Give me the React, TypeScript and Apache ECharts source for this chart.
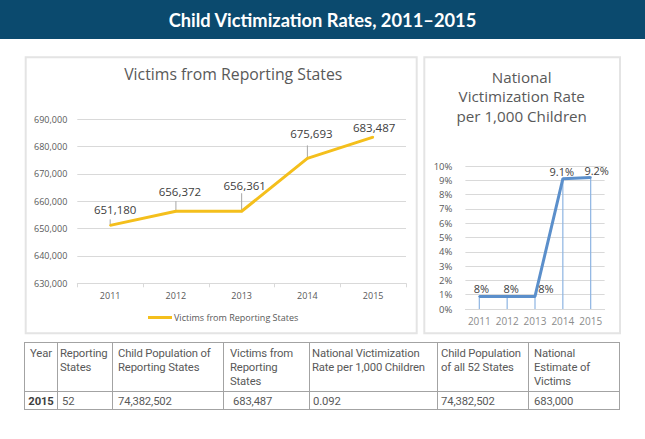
import React, { useEffect, useRef } from 'react';
import * as echarts from 'echarts';

const years = ['2011', '2012', '2013', '2014', '2015'];
const victims = [651180, 656372, 656361, 675693, 683487];
const victimMin = 630000;
const victimMax = 690000;
const victimStep = 10000;

const rateValues = [0.88, 0.88, 0.88, 9.1, 9.2];
const rateLabels = ['8%', '8%', '8%', '9.1%', '9.2%'];
const rateMin = 0;
const rateMax = 10;
const rateStep = 1;

const leftTitle = 'Victims from Reporting States';
const rightTitleLines = ['National', 'Victimization Rate', 'per 1,000 Children'];

const tableHeaders = [
  'Year',
  'Reporting\nStates',
  'Child Population of\nReporting States',
  'Victims from\nReporting\nStates',
  'National Victimization\nRate per 1,000 Children',
  'Child Population\nof all 52 States',
  'National\nEstimate of\nVictims',
];
const tableRow = ['2015', '52', '74,382,502', '683,487', '0.092', '74,382,502', '683,000'];

// layout (not data)
const victimLabelShift = [
  [5, -4],
  [4, -8],
  [3, -14],
  [4, -13],
  [1, 2],
];
const leaderLen = [6, 10, 18, 13, 0];
const rateLabelShift = [
  [2, 0],
  [4, 0],
  [11, 0],
  [-1, 0],
  [6, 1],
];
const colWidths = [33, 55, 111, 86, 128, 91, 91];
const headPad = [0, 2, 5, 6, 2, 3, 5];
const rowPad = [0, 4, 5, 9, 3, 3, 5];

const FONT = '"Open Sans", "Noto Sans", sans-serif';
const TABLE_FONT = 'Roboto, "Noto Sans", sans-serif';

export default function App() {
  const ref = useRef<HTMLDivElement>(null);

  useEffect(() => {
    const chart = echarts.init(ref.current!, null, { renderer: 'svg' });
    chart.setOption({
      animation: false,
      textStyle: { fontFamily: FONT },
      graphic: [
        { type: 'rect', shape: { x: 0, y: 0, width: 645, height: 39 }, style: { fill: '#0b4a6e' }, z: 0 },
        {
          type: 'text',
          x: 322.5,
          y: 19.5,
          style: {
            text: 'Child Victimization Rates, 2011\u20132015',
            fill: '#ffffff',
            font: 'bold 18.3px Lato, "Open Sans", sans-serif',
            textAlign: 'center',
            textVerticalAlign: 'middle',
          },
          z: 1,
        },
        {
          type: 'rect',
          shape: { x: 25.7, y: 57.3, width: 391, height: 276 },
          style: { fill: '#ffffff', stroke: '#e4e4e4', lineWidth: 2 },
          z: -10,
        },
        {
          type: 'rect',
          shape: { x: 424.3, y: 57.3, width: 195.7, height: 276 },
          style: { fill: '#ffffff', stroke: '#e4e4e4', lineWidth: 2 },
          z: -10,
        },
        {
          type: 'text',
          x: 233.3,
          y: 74,
          style: {
            text: leftTitle,
            fill: '#595959',
            font: '15.8px ' + FONT,
            textAlign: 'center',
            textVerticalAlign: 'middle',
          },
        },
        ...rightTitleLines.map((t, i) => ({
          type: 'text',
          x: 521.7,
          y: 76.7 + i * 19.7,
          style: {
            text: t,
            fill: '#595959',
            font: '15.2px ' + FONT,
            textAlign: 'center',
            textVerticalAlign: 'middle',
          },
        })),
      ],
      legend: {
        data: ['Victims from Reporting States'],
        left: 148,
        top: 313,
        padding: 0,
        icon: 'rect',
        itemWidth: 24,
        itemHeight: 3,
        itemGap: 10,
        textStyle: { fontSize: 9, color: '#595959', padding: [0, 0, 0, -3] },
      },
      grid: [
        { left: 77.3, right: 239, top: 119.3, bottom: 155.7 },
        { left: 465.4, right: 40.4, top: 166, bottom: 130 },
      ],
      xAxis: [
        {
          type: 'category',
          gridIndex: 0,
          data: years,
          boundaryGap: true,
          axisLine: { lineStyle: { color: '#d9d9d9' } },
          axisTick: { show: true, alignWithLabel: false, length: 4, lineStyle: { color: '#d9d9d9' } },
          axisLabel: { fontSize: 9, color: '#595959', margin: 8, interval: 0 },
        },
        {
          type: 'category',
          gridIndex: 1,
          data: years,
          boundaryGap: true,
          axisLine: { lineStyle: { color: '#d9d9d9' } },
          axisTick: { show: false },
          axisLabel: { fontSize: 10, color: '#8c8c8c', margin: 7, interval: 0 },
        },
      ],
      yAxis: [
        {
          type: 'value',
          gridIndex: 0,
          min: victimMin,
          max: victimMax,
          interval: victimStep,
          axisLine: { show: false },
          axisTick: { show: false },
          splitLine: { lineStyle: { color: '#d9d9d9' } },
          axisLabel: {
            fontSize: 9,
            color: '#595959',
            margin: 10,
            formatter: (v: number) => v.toLocaleString('en-US'),
          },
        },
        {
          type: 'value',
          gridIndex: 1,
          min: rateMin,
          max: rateMax,
          interval: rateStep,
          axisLine: { show: false },
          axisTick: { show: false },
          splitLine: { lineStyle: { color: '#d9d9d9' } },
          axisLabel: { fontSize: 9.5, color: '#595959', margin: 13, formatter: '{value}%' },
        },
      ],
      series: [
        {
          name: 'leaders',
          type: 'custom',
          xAxisIndex: 0,
          yAxisIndex: 0,
          data: victims.map((v, i) => [i, v]),
          silent: true,
          z: 1,
          renderItem: (params: any, api: any) => {
            const i = params.dataIndex;
            const pt = api.coord([api.value(0), api.value(1)]);
            if (!leaderLen[i]) return null;
            return {
              type: 'line',
              shape: { x1: pt[0], y1: pt[1], x2: pt[0], y2: pt[1] - leaderLen[i] },
              style: { stroke: '#a6a6a6', lineWidth: 1 },
            };
          },
        },
        {
          name: 'Victims from Reporting States',
          type: 'line',
          xAxisIndex: 0,
          yAxisIndex: 0,
          data: victims,
          symbol: 'circle',
          symbolSize: 2,
          lineStyle: { color: '#f4bf1c', width: 3 },
          itemStyle: { color: '#f4bf1c' },
          label: {
            show: true,
            position: 'top',
            distance: 5,
            fontSize: 11.5,
            color: '#404040',
            formatter: (p: any) => Number(p.value).toLocaleString('en-US'),
          },
          labelLayout: (p: any) => ({
            dx: victimLabelShift[p.dataIndex][0],
            dy: victimLabelShift[p.dataIndex][1],
          }),
          z: 3,
        },
        {
          name: 'drop',
          type: 'bar',
          xAxisIndex: 1,
          yAxisIndex: 1,
          data: rateValues,
          barWidth: 1.2,
          itemStyle: { color: '#8db4e2' },
          silent: true,
          z: 2,
        },
        {
          name: 'National Victimization Rate',
          type: 'line',
          xAxisIndex: 1,
          yAxisIndex: 1,
          data: rateValues,
          symbol: 'circle',
          symbolSize: 2,
          lineStyle: { color: '#5b8fcb', width: 3 },
          itemStyle: { color: '#5b8fcb' },
          label: {
            show: true,
            position: 'top',
            distance: 1,
            fontSize: 11,
            color: '#404040',
            formatter: (p: any) => rateLabels[p.dataIndex],
          },
          labelLayout: (p: any) => ({
            dx: rateLabelShift[p.dataIndex][0],
            dy: rateLabelShift[p.dataIndex][1],
          }),
          z: 3,
        },
      ],
    });
    return () => chart.dispose();
  }, []);

  const cellBase: React.CSSProperties = {
    border: '1.5px solid #a3a3a3',
    color: '#595959',
    fontFamily: TABLE_FONT,
    fontSize: 11.3,
    letterSpacing: '-0.15px',
    lineHeight: '14px',
    textAlign: 'left',
    boxSizing: 'border-box',
    whiteSpace: 'nowrap',
    overflow: 'hidden',
  };

  return (
    <div
      style={{
        position: 'fixed',
        left: 0,
        top: 0,
        width: 645,
        height: 439,
        background: '#ffffff',
        overflow: 'hidden',
      }}
    >
      <div ref={ref} style={{ position: 'absolute', left: 0, top: 0, width: 645, height: 439 }} />
      <table
        style={{
          position: 'absolute',
          left: 24,
          top: 342,
          width: 595,
          borderCollapse: 'collapse',
          tableLayout: 'fixed',
        }}
      >
        <colgroup>
          {colWidths.map((w, i) => (
            <col key={i} style={{ width: w }} />
          ))}
        </colgroup>
        <tbody>
          <tr style={{ height: 49 }}>
            {tableHeaders.map((h, i) => (
              <td
                key={i}
                style={{
                  ...cellBase,
                  verticalAlign: 'top',
                  padding: `4px 0 0 ${headPad[i]}px`,
                  textAlign: i === 0 ? 'center' : 'left',
                }}
              >
                {h.split('\n').map((line, j) => (
                  <div key={j}>{line}</div>
                ))}
              </td>
            ))}
          </tr>
          <tr style={{ height: 18 }}>
            {tableRow.map((v, i) => (
              <td
                key={i}
                style={{
                  ...cellBase,
                  verticalAlign: 'middle',
                  padding: `2px 0 0 ${rowPad[i]}px`,
                  fontWeight: i === 0 ? 'bold' : 'normal',
                  color: i === 0 ? '#404040' : '#595959',
                  textAlign: i === 0 ? 'center' : 'left',
                }}
              >
                {v}
              </td>
            ))}
          </tr>
        </tbody>
      </table>
    </div>
  );
}
